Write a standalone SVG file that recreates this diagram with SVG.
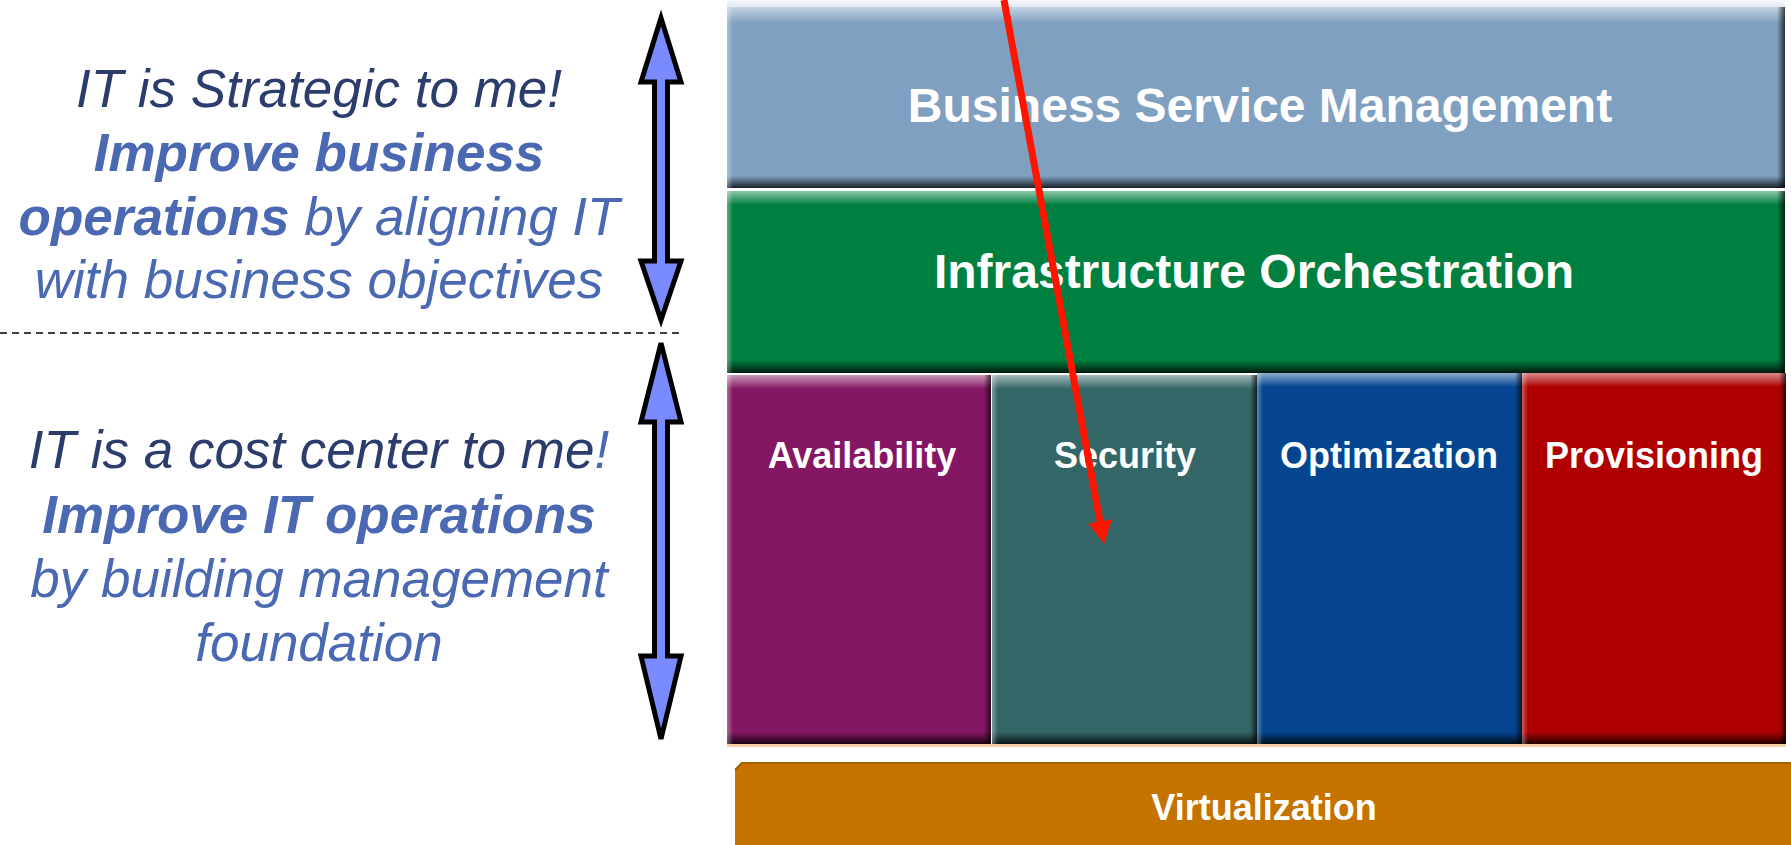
<svg xmlns="http://www.w3.org/2000/svg" width="1791" height="845" viewBox="0 0 1791 845">
  <defs>
    <linearGradient id="topHL" x1="0" y1="0" x2="0" y2="1">
      <stop offset="0" stop-color="#ffffff" stop-opacity="0.55"/>
      <stop offset="1" stop-color="#ffffff" stop-opacity="0"/>
    </linearGradient>
    <linearGradient id="botSH" x1="0" y1="0" x2="0" y2="1">
      <stop offset="0" stop-color="#000000" stop-opacity="0"/>
      <stop offset="1" stop-color="#000000" stop-opacity="0.8"/>
    </linearGradient>
    <linearGradient id="leftHL" x1="0" y1="0" x2="1" y2="0">
      <stop offset="0" stop-color="#ffffff" stop-opacity="0.35"/>
      <stop offset="1" stop-color="#ffffff" stop-opacity="0"/>
    </linearGradient>
    <linearGradient id="rightSH" x1="0" y1="0" x2="1" y2="0">
      <stop offset="0" stop-color="#000000" stop-opacity="0"/>
      <stop offset="1" stop-color="#000000" stop-opacity="0.7"/>
    </linearGradient>
    <linearGradient id="topGlow" x1="0" y1="0" x2="0" y2="1">
      <stop offset="0" stop-color="#f6f7f9" stop-opacity="1"/>
      <stop offset="1" stop-color="#e2e8ef" stop-opacity="1"/>
    </linearGradient>
    <marker id="redHead" markerUnits="userSpaceOnUse" markerWidth="24" markerHeight="25" refX="0" refY="12.5" orient="auto">
      <path d="M0,0.5 L23,12.5 L0,24.5 z" fill="#ff1400"/>
    </marker>
    <style>
      .lt { font-family: "Liberation Sans", Arial, sans-serif; font-size: 53px; font-style: italic; fill: #4a69b2; text-anchor: middle; }
      .dk { fill: #2c3c6c; }
      .b { font-weight: bold; }
      .lbl { font-family: "Liberation Sans", Arial, sans-serif; font-weight: bold; fill: #ffffff; text-anchor: middle; }
      .big { font-size: 48px; }
      .sm { font-size: 36px; }
      .dbl { fill: #7a8bff; stroke: #000000; stroke-width: 5; stroke-linejoin: miter; }
      .hl { fill: url(#topHL); }
      .sh { fill: url(#botSH); }
      .lh { fill: url(#leftHL); }
      .rs { fill: url(#rightSH); }
    </style>
  </defs>

  <rect x="0" y="0" width="1791" height="845" fill="#ffffff"/>

  <g id="text-strategic">
    <text class="lt dk" x="319" y="107">IT is Strategic to me!</text>
    <text class="lt b" x="319" y="171">Improve business</text>
    <text class="lt" x="319" y="235"><tspan class="b">operations</tspan> by aligning IT</text>
    <text class="lt" x="319" y="298">with business objectives</text>
  </g>

  <g id="text-cost">
    <text class="lt" x="319" y="468"><tspan class="dk">IT is a cost center to me</tspan>!</text>
    <text class="lt b" x="319" y="533">Improve IT operations</text>
    <text class="lt" x="319" y="597">by building management</text>
    <text class="lt" x="319" y="661">foundation</text>
  </g>

  <g id="divider">
    <line x1="0" y1="333" x2="683" y2="333" stroke="#000000" stroke-width="1.5" stroke-dasharray="7,5"/>
  </g>

  <g id="arrow-top">
    <polygon class="dbl" points="661,18 681,82 667.5,82 667.5,261 681,261 661,320 641,261 654.5,261 654.5,82 641,82"/>
  </g>
  <g id="arrow-bottom">
    <polygon class="dbl" points="661,343 681,422 667.5,422 667.5,656 681,656 661,739 641,656 654.5,656 654.5,422 641,422"/>
  </g>

  <rect x="727" y="0" width="1058" height="7" fill="url(#topGlow)"/>

  <g id="bsm">
    <rect x="727" y="7" width="1058" height="181" fill="#7fa0c0"/>
    <rect class="hl" x="727" y="7" width="1058" height="16"/>
    <rect class="sh" x="727" y="176" width="1058" height="12"/>
    <rect class="lh" x="727" y="7" width="6" height="181"/>
    <rect class="rs" x="1777" y="7" width="8" height="181"/>
    <text class="lbl big" x="1260" y="122">Business Service Management</text>
  </g>

  <g id="orchestration">
    <rect x="727" y="191" width="1058" height="182" fill="#008040"/>
    <rect class="hl" x="727" y="191" width="1058" height="14"/>
    <rect class="sh" x="727" y="360" width="1058" height="13"/>
    <rect class="lh" x="727" y="191" width="6" height="182"/>
    <rect class="rs" x="1777" y="191" width="8" height="182"/>
    <text class="lbl big" x="1254" y="288">Infrastructure Orchestration</text>
  </g>

  <g id="availability">
    <rect x="727" y="375" width="264" height="369" fill="#841763"/>
    <rect class="hl" x="727" y="375" width="264" height="14"/>
    <rect class="sh" x="727" y="732" width="264" height="12"/>
    <rect class="lh" x="727" y="375" width="6" height="369"/>
    <rect class="rs" x="984" y="375" width="7" height="369"/>
    <text class="lbl sm" x="862" y="468">Availability</text>
  </g>

  <g id="security">
    <rect x="992" y="375" width="265" height="369" fill="#336666"/>
    <rect class="hl" x="992" y="375" width="265" height="14"/>
    <rect class="sh" x="992" y="732" width="265" height="12"/>
    <rect class="lh" x="992" y="375" width="6" height="369"/>
    <rect class="rs" x="1250" y="375" width="7" height="369"/>
    <text class="lbl sm" x="1125" y="468">Security</text>
  </g>

  <g id="optimization">
    <rect x="1257" y="373" width="265" height="371" fill="#03468f"/>
    <rect class="hl" x="1257" y="373" width="265" height="14"/>
    <rect class="sh" x="1257" y="732" width="265" height="12"/>
    <rect class="lh" x="1257" y="373" width="6" height="371"/>
    <rect class="rs" x="1515" y="373" width="7" height="371"/>
    <text class="lbl sm" x="1389" y="468">Optimization</text>
  </g>

  <g id="provisioning">
    <rect x="1522" y="373" width="264" height="371" fill="#ae0000"/>
    <rect class="hl" x="1522" y="373" width="264" height="14"/>
    <rect class="sh" x="1522" y="732" width="264" height="12"/>
    <rect class="lh" x="1522" y="373" width="6" height="371"/>
    <rect class="rs" x="1779" y="373" width="7" height="371"/>
    <text class="lbl sm" x="1654" y="468">Provisioning</text>
  </g>

  <rect x="727" y="744" width="1059" height="3" fill="#f7cfa6"/>

  <g id="virtualization">
    <polygon points="735,845 735,769 742,762 1791,762 1791,845" fill="#c47300"/>
    <polyline points="735,770 742,763 1791,763" fill="none" stroke="#a06000" stroke-width="2"/>
    <text class="lbl sm" x="1264" y="820">Virtualization</text>
  </g>

  <g id="connectors">
    <line x1="1004" y1="0" x2="1100" y2="521.4" stroke="#ff1400" stroke-width="7" marker-end="url(#redHead)"/>
  </g>
</svg>
